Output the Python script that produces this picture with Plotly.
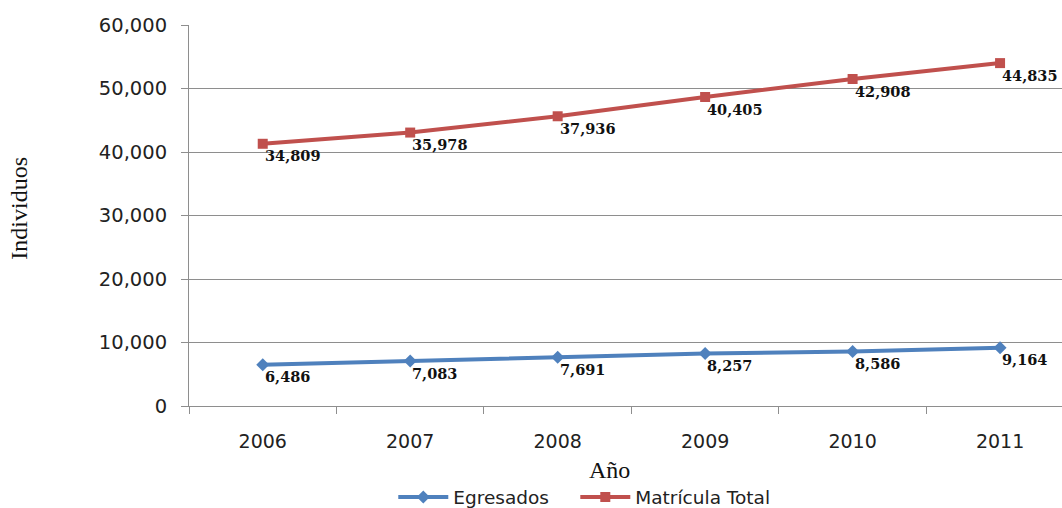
import plotly.graph_objects as go

# Years on the category axis
years = ["2006", "2007", "2008", "2009", "2010", "2011"]

# Graduates per year
egresados = [6486, 7083, 7691, 8257, 8586, 9164]

# Total enrolment per year (stacked on top of graduates)
matricula_total = [34809, 35978, 37936, 40405, 42908, 44835]

# Y-axis tick values and labels
y_ticks = [0, 10000, 20000, 30000, 40000, 50000, 60000]
y_tick_labels = ["0", "10,000", "20,000", "30,000", "40,000", "50,000", "60,000"]

BLUE = "#4F81BD"
RED = "#C0504D"
GRID = "#8e8e8e"
LABEL_FONT = dict(family="DejaVu Serif", size=14.5, color="#111111")
LEGEND_FONT = dict(family="DejaVu Sans", size=18.5, color="#222222")

fig = go.Figure()

fig.add_trace(go.Scatter(
    x=years, y=egresados, name="Egresados",
    stackgroup="one", fill="none",
    mode="lines+markers",
    line=dict(color=BLUE, width=4),
    marker=dict(symbol="diamond", size=10, color=BLUE),
    legend="legend",
))

fig.add_trace(go.Scatter(
    x=years, y=matricula_total, name="Matrícula Total",
    stackgroup="one", fill="none",
    mode="lines+markers",
    line=dict(color=RED, width=4),
    marker=dict(symbol="square", size=10, color=RED),
    legend="legend2",
))

# Value labels sit just below and to the right of each stacked point
# (category axis positions are given as indices)
annotations = []
running = [0] * len(years)
for series in (egresados, matricula_total):
    for i, v in enumerate(series):
        running[i] += v
        annotations.append(dict(
            x=i, y=running[i], xref="x", yref="y",
            text=f"<b>{v:,}</b>", showarrow=False,
            xanchor="left", yanchor="middle",
            xshift=0, yshift=-12,
            font=LABEL_FONT,
        ))

annotations += [
    dict(text="Individuos", xref="paper", yref="paper",
         x=-0.195, y=0.52, xanchor="center", yanchor="middle",
         textangle=-90, showarrow=False,
         font=dict(family="Liberation Serif", size=24, color="#111111")),
    dict(text="Año", xref="paper", yref="paper",
         x=(609 - 189) / 873, y=-0.168, xanchor="center", yanchor="middle",
         showarrow=False,
         font=dict(family="Liberation Serif", size=24, color="#111111")),
]

legend_common = dict(
    orientation="h",
    y=-0.24, yanchor="middle", xanchor="left",
    itemwidth=50,
    font=LEGEND_FONT,
    bgcolor="rgba(0,0,0,0)",
)

fig.update_layout(
    width=1062, height=508,
    margin=dict(l=189, r=0, t=25, b=102, autoexpand=False),
    paper_bgcolor="white",
    plot_bgcolor="white",
    font=dict(family="DejaVu Sans", size=18, color="#222222"),
    showlegend=True,
    legend=dict(x=0.234, **legend_common),
    legend2=dict(x=0.4425, **legend_common),
    xaxis=dict(
        type="category",
        range=[-0.5, 5.42],
        tickson="boundaries",
        ticks="outside", ticklen=7, tickcolor=GRID,
        showline=True, linecolor=GRID, linewidth=1,
        showgrid=False,
        tickfont=dict(family="DejaVu Sans", size=19, color="#222222"),
        ticklabelstandoff=18,
    ),
    yaxis=dict(
        range=[0, 60000],
        tickvals=y_ticks, ticktext=y_tick_labels,
        ticks="outside", ticklen=7, tickcolor=GRID,
        showline=True, linecolor=GRID, linewidth=1,
        showgrid=True, gridcolor=GRID, gridwidth=1,
        zeroline=False,
        tickfont=dict(family="DejaVu Sans", size=19.5, color="#222222"),
        ticklabelstandoff=10,
    ),
    annotations=annotations,
)

fig.write_html("out.html")
